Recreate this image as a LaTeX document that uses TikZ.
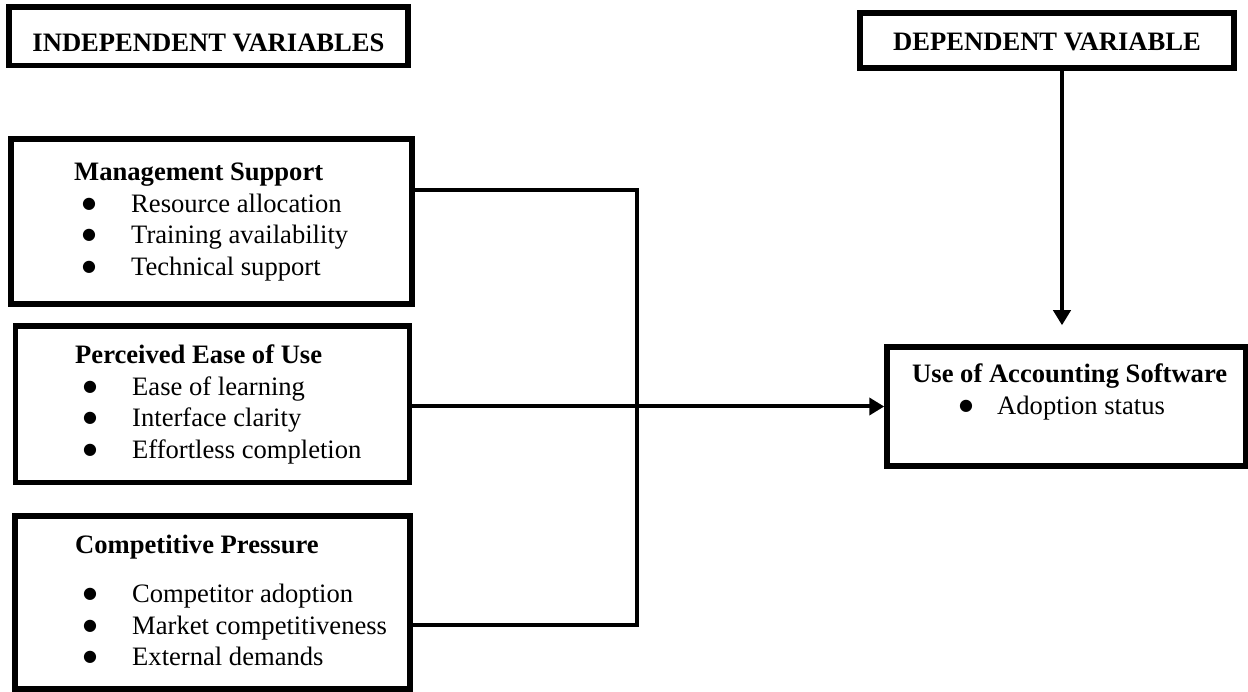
\documentclass[tikz,border=0pt]{standalone}
\usepackage{fontspec}
\setmainfont{Liberation Serif}
\newfontfamily\dotfont{DejaVu Sans}
\usetikzlibrary{arrows.meta}

% bullet line inside a box
\newcommand{\vdot}{\raisebox{4pt}{\dotfont\fontsize{16}{16}\selectfont ●}}
\newcommand{\vitem}[1]{\hspace*{8pt}\makebox[49pt][l]{\vdot}#1}

\begin{document}
\begin{tikzpicture}[x=1pt, y=-1pt,
    varbox/.style={draw, line width=5.5pt, rectangle, inner sep=0pt, anchor=center},
    vartext/.style={inner sep=0pt, anchor=base west, font=\fontsize{26.6}{31.5}\selectfont},
    hdrtext/.style={inner sep=0pt, anchor=base, font=\fontsize{26.6}{31.5}\selectfont\bfseries},
    link/.style={line width=4pt},
    flow/.style={line width=4pt, -{Triangle[length=15pt, width=17pt]}}]
    \useasboundingbox (0,0) rectangle (1248,692);

    % Titles
    \node[varbox, minimum width=399pt, minimum height=58.5pt] (indep) at (208.5,36.25) {};
    \node[hdrtext] (indeptxt) at (208.5,52) {INDEPENDENT VARIABLES};
    \node[varbox, minimum width=374pt, minimum height=55pt] (dep) at (1047,40.5) {};
    \node[hdrtext] (deptxt) at (1047,51) {DEPENDENT VARIABLE};

    % Independent variables
    \node[varbox, minimum width=401pt, minimum height=165pt] (mgmt) at (211.5,221.5) {};
    \node[vartext] (mgmttxt) at (74,181) {\begin{tabular}[t]{@{}l@{}}
        \textbf{Management Support}\\
        \vitem{Resource allocation}\\
        \vitem{Training availability}\\
        \vitem{Technical support}
      \end{tabular}};

    \node[varbox, minimum width=394pt, minimum height=156.5pt] (ease) at (212.5,404.25) {};
    \node[vartext] (easetxt) at (75,364) {\begin{tabular}[t]{@{}l@{}}
        \textbf{Perceived Ease of Use}\\
        \vitem{Ease of learning}\\
        \vitem{Interface clarity}\\
        \vitem{Effortless completion}
      \end{tabular}};

    \node[varbox, minimum width=395pt, minimum height=173pt] (comp) at (212.5,602.5) {};
    \node[vartext] (comptxt) at (75,553) {\begin{tabular}[t]{@{}l@{}}
        \textbf{Competitive Pressure}\\[18pt]
        \vitem{Competitor adoption}\\
        \vitem{Market competitiveness}\\
        \vitem{External demands}
      \end{tabular}};

    % Dependent variable
    \node[varbox, minimum width=359pt, minimum height=119pt] (use) at (1066.5,406.5) {};
    \node[vartext] (usetxt) at (912,383) {\begin{tabular}[t]{@{}l@{}}
        \textbf{Use of Accounting Software}\\
        \hspace*{47pt}\makebox[38pt][l]{\vdot}Adoption status
      \end{tabular}};

    % Connectors
    \coordinate (bus) at (637,407);
    \draw[link] ([yshift=31.5pt]mgmt.east) -| (bus) |- ([yshift=-22.5pt]comp.east);
    \draw[flow] (ease.east |- use.west) -- (use.west);
    \draw[flow, shorten >=19pt] ([xshift=15pt]dep.south) -- ([xshift=15pt]dep.south |- use.north);
\end{tikzpicture}
\end{document}
